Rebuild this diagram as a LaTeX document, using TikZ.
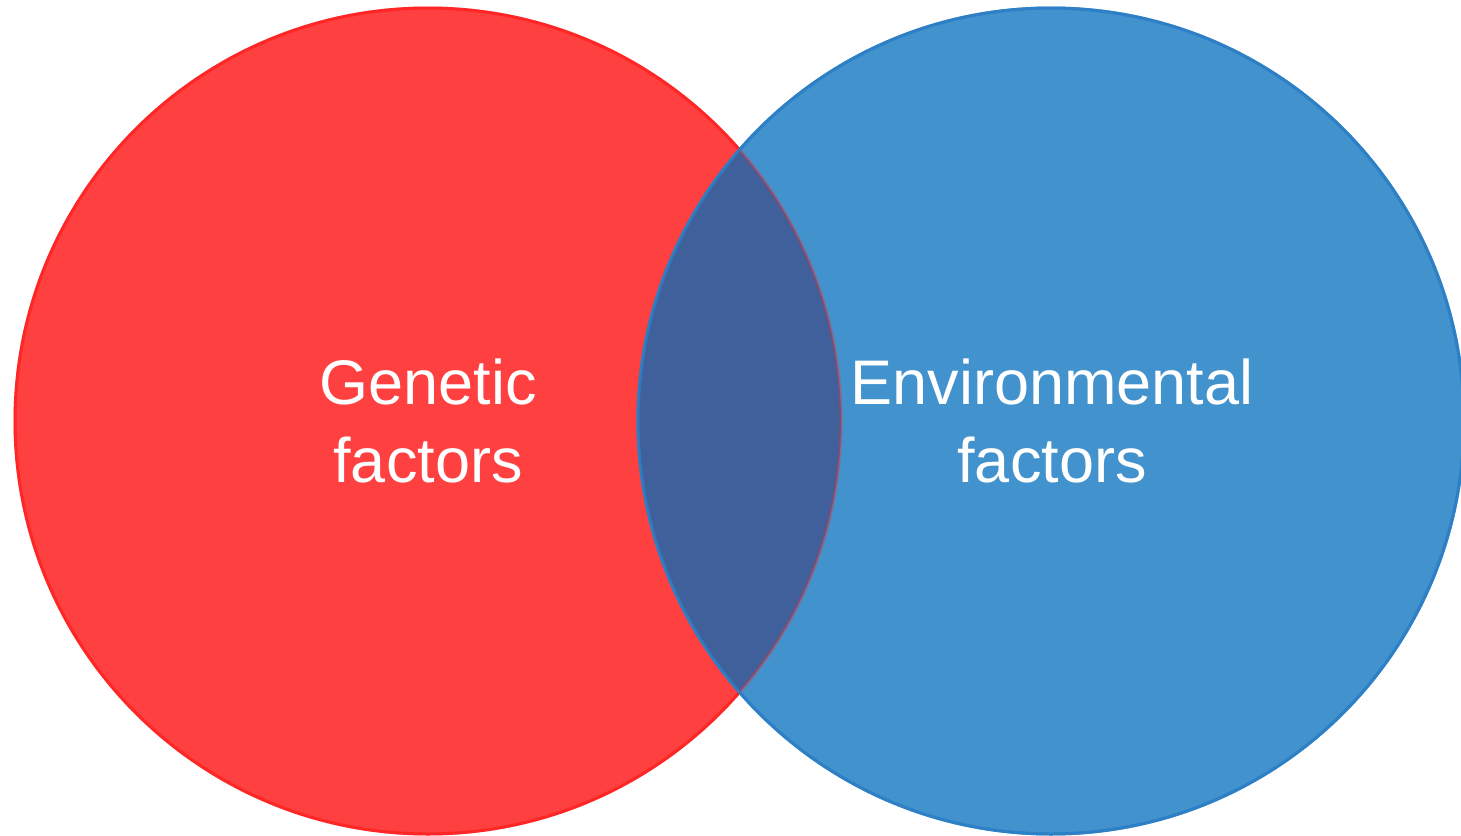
\documentclass[tikz,border=0pt]{standalone}
\usepackage{fontspec}
\setmainfont{Liberation Sans}
\usetikzlibrary{positioning}
\definecolor{genfill}{HTML}{FF4040}
\definecolor{genline}{HTML}{FF2626}
\definecolor{envfill}{HTML}{4292CE}
\definecolor{envline}{HTML}{2E80C6}
\definecolor{bothfill}{HTML}{3F609B}
\tikzset{
	every node/.style = {inner sep = 0, outer sep = 0},
	set/.style = {circle, minimum size = 826pt, line width = 3pt},
	setrim/.style = {line width = 3pt, draw opacity = #1},
	setlabel/.style = {text = white, align = center, font = \fontsize{63}{78}\selectfont}
}

\begin{document}
\begin{tikzpicture}[x=1pt, y=-1pt]
	\useasboundingbox (0,0) rectangle (1461,835);
	\node(genetic)[set, fill=genfill, draw=genline] at (428,421) {};
	\node(environ)[set, fill=envfill, draw=envline] at (1051,421) {};

	% shared part of the two sets
	\begin{scope}
		\clip (genetic.center) circle (413pt);
		\fill[bothfill] (environ.center) circle (413pt);
	\end{scope}
	\draw[setrim=0.35, genline] (genetic.center) circle (413pt);
	\draw[setrim=0.8, envline] (environ.center) circle (413pt);

	\node(genlabel)[setlabel] at (genetic.center) {Genetic\\factors};
	\node(envlabel)[setlabel] at ([xshift=1pt]environ.center) {Environmental\\factors};
\end{tikzpicture}
\end{document}
